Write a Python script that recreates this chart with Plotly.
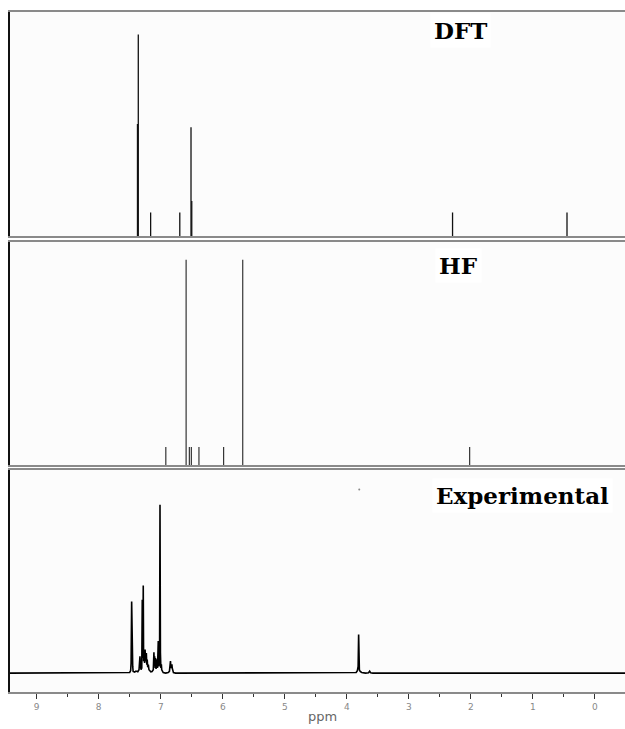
import plotly.graph_objects as go

# --- Calculated 1H chemical shifts (stick spectra), relative intensity 0..1 ---
dft_ppm = [7.375, 7.362, 7.163, 6.693, 6.512, 6.500, 2.296, 0.451]
dft_int = [0.50, 0.90, 0.105, 0.105, 0.485, 0.156, 0.105, 0.105]

hf_ppm = [6.918, 6.591, 6.539, 6.507, 6.384, 5.986, 5.678, 2.020]
hf_int = [0.081, 0.92, 0.081, 0.081, 0.081, 0.081, 0.92, 0.081]

# --- Experimental 1H NMR trace (ppm, intensity with the tallest peak = 100) ---
exp_ppm = [9.45, 7.53, 7.50, 7.485, 7.478, 7.469, 7.462, 7.456, 7.452, 7.445,
           7.42, 7.40, 7.37, 7.35, 7.342, 7.335, 7.328, 7.318, 7.306, 7.298,
           7.292, 7.287, 7.282, 7.276, 7.268, 7.260, 7.252, 7.246, 7.240,
           7.232, 7.225, 7.218, 7.210, 7.200, 7.190, 7.180, 7.160, 7.140,
           7.120, 7.110, 7.104, 7.098, 7.090, 7.084, 7.076, 7.066, 7.058,
           7.052, 7.046, 7.040, 7.034, 7.026, 7.018, 7.012, 7.005, 6.998,
           6.990, 6.984, 6.976, 6.960, 6.920, 6.880, 6.860, 6.850, 6.843,
           6.836, 6.828, 6.820, 6.815, 6.808, 6.795, 6.760, 3.900, 3.850,
           3.830, 3.818, 3.810, 3.806, 3.798, 3.785, 3.760, 3.700, 3.650,
           3.632, 3.615, 3.580, -0.50]
exp_int = [0.0, 0.0, 0.4, 1.5, 6.0, 42.5, 8.0, 24.9, 4.0, 1.0,
           0.6, 1.2, 0.8, 2.0, 6.0, 10.0, 5.0, 2.0, 3.0, 43.5,
           9.0, 14.0, 52.0, 7.0, 11.0, 6.0, 14.0, 7.0, 10.0,
           12.0, 5.0, 8.0, 3.5, 5.0, 2.0, 1.5, 0.8, 1.0,
           2.0, 12.4, 5.0, 10.0, 3.0, 9.0, 2.5, 6.0, 8.2,
           3.0, 10.0, 19.0, 6.0, 4.0, 18.0, 100.0, 12.0, 3.0,
           5.3, 2.0, 1.0, 0.3, 0.0, 0.3, 1.0, 4.0, 7.2,
           3.0, 5.0, 5.3, 3.0, 1.0, 0.3, 0.0, 0.0, 0.4,
           1.5, 4.0, 22.9, 6.0, 2.0, 1.0, 0.4, 0.0, 0.2,
           1.2, 0.2, 0.0, 0.0]

# a stray point recorded above the 3.8 ppm singlet
dot_ppm = [3.80]
dot_int = [109.0]

panel_labels = ["DFT", "HF", "Experimental"]
tick_vals = [9, 8, 7, 6, 5, 4, 3, 2, 1, 0]
tick_text = [str(v) for v in tick_vals]
x_title = "ppm"

W, H = 625, 729


def sticks(ppm, inten):
    xs, ys = [], []
    for p, h in zip(ppm, inten):
        xs += [p, p, None]
        ys += [0, h, None]
    return xs, ys


def py(px):
    return 1 - px / H


fig = go.Figure()

x1, y1 = sticks(dft_ppm, dft_int)
fig.add_trace(go.Scatter(x=x1, y=y1, mode="lines", line=dict(color="#111", width=1.3),
                         xaxis="x", yaxis="y", showlegend=False, hoverinfo="skip"))
x2, y2 = sticks(hf_ppm, hf_int)
fig.add_trace(go.Scatter(x=x2, y=y2, mode="lines", line=dict(color="#222", width=1.1),
                         xaxis="x2", yaxis="y2", showlegend=False, hoverinfo="skip"))
fig.add_trace(go.Scatter(x=exp_ppm, y=exp_int, mode="lines", line=dict(color="#000", width=1.6),
                         xaxis="x3", yaxis="y3", showlegend=False, hoverinfo="skip"))
fig.add_trace(go.Scatter(x=dot_ppm, y=dot_int, mode="markers", marker=dict(color="#888", size=2),
                         xaxis="x3", yaxis="y3", showlegend=False, hoverinfo="skip"))

xr = [9.43, -0.484]
xdom = [10 / W, 1.0]
domains = [
    [py(236), py(12)],
    [py(465), py(242)],
    [py(692), py(470)],
]
yranges = [[0, 1], [0, 1], [-11.2, 120.6]]

common_x = dict(range=xr, domain=xdom, showgrid=False, zeroline=False,
                showline=True, linecolor="#8a8a8a", linewidth=1.5, mirror=True)
common_y = dict(showgrid=False, zeroline=False, showticklabels=False, ticks="",
                showline=True, linecolor="#111", linewidth=2, mirror=False)

layout = dict(
    width=W, height=H,
    margin=dict(l=0, r=0, t=0, b=0),
    paper_bgcolor="white",
    plot_bgcolor="#fcfcfc",
    showlegend=False,
)
layout["xaxis"] = dict(common_x, anchor="y", showticklabels=False, ticks="")
layout["xaxis2"] = dict(common_x, anchor="y2", showticklabels=False, ticks="")
layout["xaxis3"] = dict(common_x, anchor="y3", showticklabels=True,
                        tickmode="array", tickvals=tick_vals, ticktext=tick_text,
                        ticks="outside", ticklen=5, tickwidth=1.2, tickcolor="#333",
                        tickfont=dict(family="DejaVu Sans", size=9, color="#888"),
                        minor=dict(ticks="outside", ticklen=3, tickwidth=1.2,
                                   tickcolor="#333", dtick=0.5, tick0=0, showgrid=False))
for i, (dom, yr) in enumerate(zip(domains, yranges)):
    key = "yaxis" if i == 0 else f"yaxis{i + 1}"
    anchor = "x" if i == 0 else f"x{i + 1}"
    layout[key] = dict(common_y, domain=dom, range=yr, anchor=anchor)

fig.update_layout(**layout)

# method names, each on a white patch
label_pos = [(460, 31), (458, 265), (522, 495)]
for text, (lx, ly) in zip(panel_labels, label_pos):
    fig.add_annotation(x=lx / W, y=py(ly), xref="paper", yref="paper",
                       text=f"<b>{text}</b>", showarrow=False,
                       xanchor="center", yanchor="middle",
                       bgcolor="white", borderpad=3,
                       font=dict(family="DejaVu Serif", size=23, color="black"))

fig.add_annotation(x=322 / W, y=py(716), xref="paper", yref="paper",
                   text=x_title, showarrow=False, xanchor="center", yanchor="middle",
                   font=dict(family="DejaVu Sans", size=13, color="#666"))

fig.write_html("out.html")
